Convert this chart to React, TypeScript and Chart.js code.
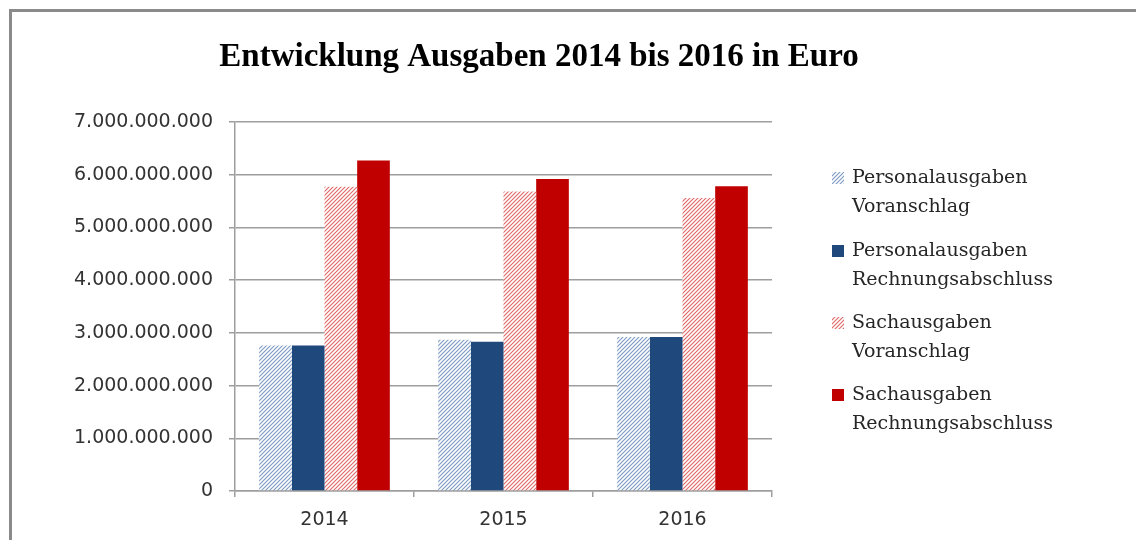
import React, { useEffect, useRef } from "react";
import { Chart, registerables } from "chart.js";

Chart.register(...registerables);

const years = ["2014", "2015", "2016"];
const personalVoranschlag = [2.76e9, 2.87e9, 2.92e9];
const personalRechnung = [2.76e9, 2.83e9, 2.92e9];
const sachVoranschlag = [5.77e9, 5.68e9, 5.56e9];
const sachRechnung = [6.27e9, 5.92e9, 5.78e9];
const seriesLabels = [
  ["Personalausgaben", "Voranschlag"],
  ["Personalausgaben", "Rechnungsabschluss"],
  ["Sachausgaben", "Voranschlag"],
  ["Sachausgaben", "Rechnungsabschluss"],
];
const titleText = "Entwicklung Ausgaben 2014 bis 2016 in Euro";

const BLUE = "#1f497d";
const RED = "#c00000";
const BLUE_HATCH = "#7f9cc4";
const RED_HATCH = "#e06c6c";

function makeHatch(color: string): CanvasPattern | string {
  const c = document.createElement("canvas");
  const s = 4;
  c.width = s;
  c.height = s;
  const g = c.getContext("2d");
  if (!g) return color;
  g.fillStyle = "#ffffff";
  g.fillRect(0, 0, s, s);
  g.strokeStyle = color;
  g.lineWidth = 1.2;
  g.beginPath();
  g.moveTo(0, s);
  g.lineTo(s, 0);
  g.moveTo(-1, 1);
  g.lineTo(1, -1);
  g.moveTo(s - 1, s + 1);
  g.lineTo(s + 1, s - 1);
  g.stroke();
  const p = g.createPattern(c, "repeat");
  return p || color;
}

const fmt = (v: number) =>
  Math.round(v).toString().replace(/\B(?=(\d{3})+(?!\d))/g, ".");

export default function App() {
  const ref = useRef<HTMLCanvasElement>(null);

  useEffect(() => {
    document.body.style.margin = "0";
    const canvas = ref.current;
    if (!canvas) return;
    const blueHatch = makeHatch(BLUE_HATCH);
    const redHatch = makeHatch(RED_HATCH);
    const fills = [blueHatch, BLUE, redHatch, RED];

    const decor = {
      id: "decor",
      afterDraw(chart: any) {
        const ctx = chart.ctx as CanvasRenderingContext2D;
        ctx.save();
        // frame
        ctx.fillStyle = "#8a8a8a";
        ctx.fillRect(9, 9, 1136 - 9, 3);
        ctx.fillRect(9, 9, 3, 540 - 9);
        // title
        ctx.fillStyle = "#000000";
        ctx.font = 'bold 33px "Liberation Serif"';
        ctx.textAlign = "center";
        ctx.textBaseline = "middle";
        ctx.fillText(titleText, 539, 57);
        // legend
        const firstY = [178, 251, 323, 395];
        ctx.textAlign = "left";
        ctx.font = '19px "DejaVu Serif"';
        seriesLabels.forEach((lines, i) => {
          const y = firstY[i];
          ctx.fillStyle = fills[i] as any;
          ctx.fillRect(832, y - 6, 12, 12);
          ctx.fillStyle = "#262626";
          lines.forEach((t, j) => ctx.fillText(t, 852, y + j * 29));
        });
        ctx.restore();
      },
    };

    const chart = new Chart(canvas, {
      type: "bar",
      data: {
        labels: years,
        datasets: [
          { label: seriesLabels[0].join(" "), data: personalVoranschlag, backgroundColor: blueHatch as any },
          { label: seriesLabels[1].join(" "), data: personalRechnung, backgroundColor: BLUE },
          { label: seriesLabels[2].join(" "), data: sachVoranschlag, backgroundColor: redHatch as any },
          { label: seriesLabels[3].join(" "), data: sachRechnung, backgroundColor: RED },
        ],
      },
      options: {
        responsive: false,
        animation: false,
        layout: { padding: { top: 122, right: 364, bottom: 0, left: 0 } },
        datasets: { bar: { categoryPercentage: 0.73, barPercentage: 1 } },
        plugins: {
          legend: { display: false },
          title: { display: false },
          tooltip: { enabled: false },
        },
        scales: {
          x: {
            afterFit(scale: any) {
              scale.height = 49;
            },
            grid: {
              drawOnChartArea: false,
              drawTicks: true,
              tickLength: 6,
              color: "#9e9e9e",
              lineWidth: 1.5,
            },
            border: { display: true, color: "#9e9e9e", width: 1.5 },
            ticks: {
              color: "#333333",
              padding: 12,
              font: { family: '"DejaVu Sans"', size: 19 },
            },
          },
          y: {
            min: 0,
            max: 7e9,
            afterFit(scale: any) {
              scale.width = 235;
            },
            grid: {
              color: "#9e9e9e",
              lineWidth: 1.5,
              tickLength: 6,
            },
            border: { display: true, color: "#9e9e9e", width: 1.5 },
            ticks: {
              stepSize: 1e9,
              color: "#333333",
              padding: 16,
              font: { family: '"DejaVu Sans"', size: 19 },
              callback: (v: any) => fmt(Number(v)),
            },
          },
        },
      },
      plugins: [decor],
    });
    return () => chart.destroy();
  }, []);

  return (
    <div style={{ width: 1136, height: 540, background: "#ffffff" }}>
      <canvas ref={ref} width={1136} height={540} style={{ display: "block", width: 1136, height: 540 }} />
    </div>
  );
}
